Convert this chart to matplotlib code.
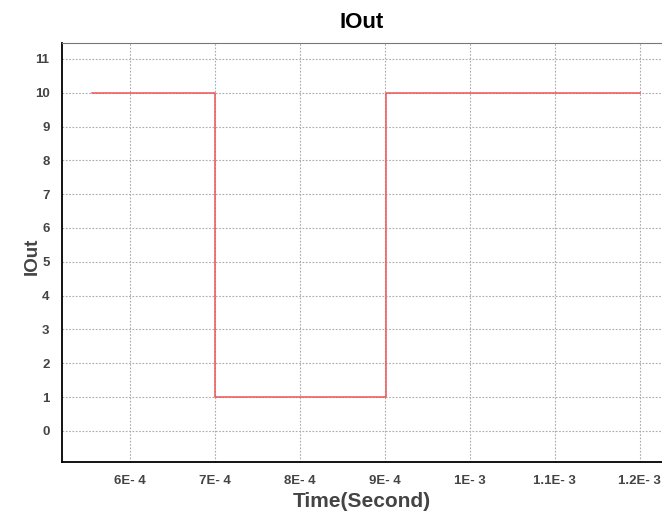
import matplotlib.pyplot as plt
from matplotlib.ticker import FixedLocator

# step waveform of IOut
time = [5.55e-4, 7.0e-4, 7.0e-4, 9.01e-4, 9.01e-4, 1.2e-3]
iout = [10, 10, 1, 1, 10, 10]

xticks = [6e-4, 7e-4, 8e-4, 9e-4, 1e-3, 1.1e-3, 1.2e-3]
xlabels = ['6E- 4', '7E- 4', '8E- 4', '9E- 4', '1E- 3', '1.1E- 3', '1.2E- 3']
yticks = list(range(0, 12))

plt.rcParams['font.family'] = ['Liberation Sans', 'DejaVu Sans']

fig = plt.figure(figsize=(6.62, 5.11), dpi=100)
ax = fig.add_axes([62 / 662, 1 - 462 / 511, 600 / 662, 419 / 511])

ax.plot(time, iout, color='#ee5555', lw=1.1)

ax.set_xlim(5.2e-4, 1.226e-3)
ax.set_ylim(-0.92, 11.47)
ax.xaxis.set_major_locator(FixedLocator(xticks))
ax.set_xticklabels(xlabels)
ax.set_yticks(yticks)

ax.grid(True, color='#aaaaaa', linestyle=(0, (1.5, 1.5)), lw=0.8)
ax.tick_params(length=0, labelsize=9.5, labelcolor='#444444', pad=9)
for lab in ax.get_xticklabels() + ax.get_yticklabels():
    lab.set_fontweight('bold')

ax.spines['right'].set_visible(False)
ax.spines['top'].set_color('#777777')
ax.spines['left'].set_linewidth(1.3)
ax.spines['bottom'].set_linewidth(1.3)

ax.set_title('IOut', fontsize=16, fontweight='bold', pad=11)
ax.set_xlabel('Time(Second)', fontsize=15, fontweight='bold', color='#444444', labelpad=4)
ax.set_ylabel('IOut', fontsize=13.5, fontweight='bold', color='#444444')
ax.yaxis.set_label_coords(-0.036, 0.49)

fig.savefig('out.png', dpi=100)
